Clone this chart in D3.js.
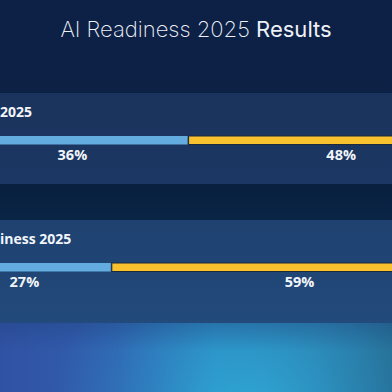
<!DOCTYPE html>
<html><head><meta charset="utf-8">
<script src="https://cdn.jsdelivr.net/npm/d3@7"></script>
<style>html,body{margin:0;padding:0;background:#0e2246;}svg{display:block;}</style>
</head><body>
<div id="chart"></div>
<script>
// ---- data (leading/trailing segments are off-canvas estimates) ----
const rowLabels = ["2025", "iness 2025"];
const leadShare = [13, 10];      // off-canvas first segment (estimate)
const blueShare = [36, 27];
const yellowShare = [48, 59];
const tailShare = [3, 4];        // off-canvas last segment (estimate)
const titleLight = "AI Readiness 2025 ";
const titleBold = "Results";

const W = 392, H = 392;
const svg = d3.select("#chart").append("svg").attr("width", W).attr("height", H);
const defs = svg.append("defs");

// background gradients
const bg = defs.append("linearGradient").attr("id","bg").attr("x1",0).attr("y1",0).attr("x2",0).attr("y2",1);
bg.append("stop").attr("offset","0").attr("stop-color","#0d2046");
bg.append("stop").attr("offset","0.5").attr("stop-color","#0c2244");
bg.append("stop").attr("offset","1").attr("stop-color","#14386a");
svg.append("rect").attr("width",W).attr("height",H).attr("fill","url(#bg)");

const base = defs.append("linearGradient").attr("id","base").attr("x1",0).attr("y1",0).attr("x2",1).attr("y2",0);
[["0","#3152a4"],["0.3","#305fae"],["0.55","#2b86be"],["0.8","#2a7dab"],["1","#256990"]]
  .forEach(([o,c]) => base.append("stop").attr("offset",o).attr("stop-color",c));
svg.append("rect").attr("x",0).attr("y",323).attr("width",W).attr("height",H-323).attr("fill","url(#base)");
const glow = defs.append("radialGradient").attr("id","glow").attr("gradientUnits","userSpaceOnUse")
  .attr("cx",250).attr("cy",420).attr("r",200);
glow.append("stop").attr("offset","0").attr("stop-color","#2fb0dc").attr("stop-opacity",0.85);
glow.append("stop").attr("offset","0.5").attr("stop-color","#2fa6d6").attr("stop-opacity",0.35);
glow.append("stop").attr("offset","1").attr("stop-color","#2fa6d6").attr("stop-opacity",0);
svg.append("rect").attr("x",0).attr("y",323).attr("width",W).attr("height",H-323).attr("fill","url(#glow)");
const topShade = defs.append("linearGradient").attr("id","ts").attr("x1",0).attr("y1",0).attr("x2",0).attr("y2",1);
topShade.append("stop").attr("offset","0").attr("stop-color","#1d3f7a").attr("stop-opacity",0.35);
topShade.append("stop").attr("offset","0.4").attr("stop-color","#1d3f7a").attr("stop-opacity",0);
svg.append("rect").attr("x",0).attr("y",323).attr("width",W).attr("height",H-323).attr("fill","url(#ts)");

// gap band darker
const gap = defs.append("linearGradient").attr("id","gap").attr("x1",0).attr("y1",0).attr("x2",0).attr("y2",1);
gap.append("stop").attr("offset","0").attr("stop-color","#08203e");
gap.append("stop").attr("offset","1").attr("stop-color","#0a2446");
svg.append("rect").attr("x",0).attr("y",184).attr("width",W).attr("height",36).attr("fill","url(#gap)");

// panels
const panelTop = [93, 220], panelBot = [184, 323];
const pg1 = defs.append("linearGradient").attr("id","p0").attr("x1",0).attr("y1",0).attr("x2",0).attr("y2",1);
pg1.append("stop").attr("offset","0").attr("stop-color","#1a335c");
pg1.append("stop").attr("offset","1").attr("stop-color","#1b3763");
const pg2 = defs.append("linearGradient").attr("id","p1").attr("x1",0).attr("y1",0).attr("x2",0).attr("y2",1);
pg2.append("stop").attr("offset","0").attr("stop-color","#1e4170");
pg2.append("stop").attr("offset","1").attr("stop-color","#224a7b");

// title
const title = svg.append("text").attr("x", W/2).attr("y", 37).attr("text-anchor","middle")
  .attr("font-family","Inter, 'Open Sans', sans-serif").attr("font-size",22).attr("fill","#eef2f8");
title.append("tspan").attr("font-weight",200).text(titleLight);
title.append("tspan").attr("font-weight",400).text(titleBold);

// scale: percentage of the full bar
const x = d3.scaleLinear().domain([0, 100]).range([-126, 514]);
const segColors = ["#2f6f5c", "#62acdf", "#f8c12d", "#8a96a8"];

rowLabels.forEach((lab, i) => {
  const g = svg.append("g");
  g.append("rect").attr("x",0).attr("y",panelTop[i]).attr("width",W)
    .attr("height",panelBot[i]-panelTop[i]).attr("fill",`url(#p${i})`);
  g.append("text").attr("x",0).attr("y",panelTop[i]+24)
    .attr("font-family","'Open Sans', sans-serif").attr("font-weight",700).attr("font-size",14)
    .attr("fill","#f2f5fa").text(lab);

  const vals = [leadShare[i], blueShare[i], yellowShare[i], tailShare[i]];
  let cum = 0;
  const segs = vals.map((v, j) => { const s = {start: cum, v, j}; cum += v; return s; });
  const barY = panelTop[i] + 43, barH = 8.5;
  g.selectAll("rect.seg").data(segs).join("rect").attr("class","seg")
    .attr("x", d => x(d.start) + (d.j > 0 ? 1 : 0))
    .attr("y", barY).attr("width", d => x(d.start + d.v) - x(d.start) - (d.j > 0 ? 1 : 0))
    .attr("height", barH).attr("fill", d => segColors[d.j])
    .attr("stroke", d => d.j === 2 ? "#1c2a3c" : "none").attr("stroke-width", 1);
  g.selectAll("text.pct").data(segs.filter(d => d.j === 1 || d.j === 2)).join("text").attr("class","pct")
    .attr("x", d => x(d.start + d.v/2)).attr("y", barY + 24).attr("text-anchor","middle")
    .attr("font-family","'Open Sans', sans-serif").attr("font-weight",700).attr("font-size",14.5)
    .attr("fill","#f2f5fa").text(d => d.v + "%");
});
</script>
</body></html>
